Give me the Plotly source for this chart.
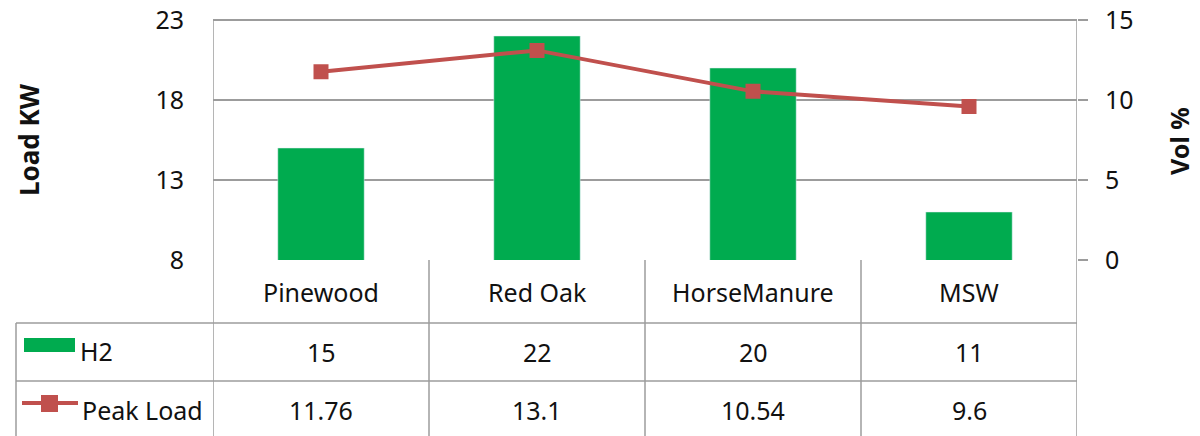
import plotly.graph_objects as go

categories = ["Pinewood", "Red Oak", "HorseManure", "MSW"]
h2_values = [15, 22, 20, 11]
peak_load = [11.76, 13.1, 10.54, 9.6]
peak_labels = ["11.76", "13.1", "10.54", "9.6"]
left_ticks = [8, 13, 18, 23]
right_ticks = [0, 5, 10, 15]

W, H = 1200, 436
GREEN = "#00AB4F"
RED = "#C0504D"
GRID = "#9C9C9C"
FONT = "Noto Sans"
PAD = 0.1          # small headroom so the top gridline/tick stay drawn
PX_PER_UNIT = 16   # 240 px for 15 units

def px(x):
    return x / W

def py(y):
    return 1 - y / H

fig = go.Figure()
fig.add_trace(go.Bar(x=categories, y=h2_values, name="H2", marker_color=GREEN,
                     width=0.4, yaxis="y"))
fig.add_trace(go.Scatter(x=categories, y=peak_load, name="Peak Load", mode="lines+markers",
                         line=dict(color=RED, width=4),
                         marker=dict(symbol="square", size=15, color=RED),
                         yaxis="y2"))

shapes = []
line_style = dict(color=GRID, width=1.5)
for yy in [323, 381]:
    shapes.append(dict(type="line", xref="paper", yref="paper", x0=px(16), x1=px(1077),
                       y0=py(yy), y1=py(yy), line=line_style))
shapes.append(dict(type="line", xref="paper", yref="paper", x0=px(16), x1=px(16),
                   y0=py(323), y1=0, line=line_style))
for i in range(len(categories) + 1):
    y_top = py(20) if i in (0, len(categories)) else py(260)
    shapes.append(dict(type="line", xref="x", yref="paper", x0=i - 0.5, x1=i - 0.5,
                       y0=y_top, y1=0, line=line_style))
shapes.append(dict(type="rect", xref="paper", yref="paper", x0=px(24), x1=px(75),
                   y0=py(352), y1=py(338), fillcolor=GREEN, line=dict(width=0)))
shapes.append(dict(type="line", xref="paper", yref="paper", x0=px(22), x1=px(78),
                   y0=py(403), y1=py(403), line=dict(color=RED, width=4)))
shapes.append(dict(type="rect", xref="paper", yref="paper", x0=px(41), x1=px(58),
                   y0=py(412), y1=py(395), fillcolor=RED, line=dict(width=0)))

annotations = []
tf = dict(family=FONT, size=25, color="#111111")
for i, c in enumerate(categories):
    annotations.append(dict(x=c, xref="x", y=py(292), yref="paper", text=c,
                            showarrow=False, font=tf, xanchor="center", yanchor="middle"))
    annotations.append(dict(x=c, xref="x", y=py(352), yref="paper", text=str(h2_values[i]),
                            showarrow=False, font=tf, xanchor="center", yanchor="middle"))
    annotations.append(dict(x=c, xref="x", y=py(410), yref="paper", text=peak_labels[i],
                            showarrow=False, font=tf, xanchor="center", yanchor="middle"))
annotations.append(dict(x=px(78), xref="paper", y=py(351), yref="paper", text="H2",
                        showarrow=False, font=tf, xanchor="left", yanchor="middle"))
annotations.append(dict(x=px(80), xref="paper", y=py(410), yref="paper", text="Peak Load",
                        showarrow=False, font=tf, xanchor="left", yanchor="middle"))
annotations.append(dict(x=px(29), xref="paper", y=py(140), yref="paper", text="<b>Load KW</b>",
                        showarrow=False, textangle=-90,
                        font=dict(family=FONT, size=26, color="#111111"),
                        xanchor="center", yanchor="middle"))
annotations.append(dict(x=px(1179), xref="paper", y=py(141), yref="paper", text="<b>Vol %</b>",
                        showarrow=False, textangle=-90,
                        font=dict(family=FONT, size=25, color="#111111"),
                        xanchor="center", yanchor="middle"))

top_px = 20 - PAD * PX_PER_UNIT

fig.update_layout(
    width=W, height=H,
    margin=dict(l=0, r=0, t=0, b=0, autoexpand=False),
    paper_bgcolor="white", plot_bgcolor="white",
    showlegend=False,
    font=dict(family=FONT, size=25, color="#111111"),
    xaxis=dict(domain=[px(213), px(1077)], range=[-0.5, 3.5], showticklabels=False,
               showgrid=False, zeroline=False, showline=False, ticks="", automargin=False),
    yaxis=dict(domain=[py(260), py(top_px)], range=[left_ticks[0], left_ticks[-1] + PAD],
               tickvals=left_ticks, ticklabeloverflow="allow",
               showgrid=True, gridcolor=GRID, gridwidth=1.5, zeroline=False,
               showline=False, ticks="", ticklabelstandoff=28, automargin=False,
               tickfont=dict(family=FONT, size=25, color="#111111")),
    yaxis2=dict(overlaying="y", side="right", range=[right_ticks[0], right_ticks[-1] + PAD],
                tickvals=right_ticks, ticklabeloverflow="allow",
                showgrid=False, zeroline=False, showline=False, ticks="outside",
                ticklen=10, tickcolor=GRID, tickwidth=1.5, ticklabelstandoff=12,
                automargin=False,
                tickfont=dict(family=FONT, size=25, color="#111111")),
    shapes=shapes,
    annotations=annotations,
)

fig.write_html("out.html",
               config={"displayModeBar": False},
               post_script="document.body.style.margin='0px';document.body.style.overflow='hidden';")
